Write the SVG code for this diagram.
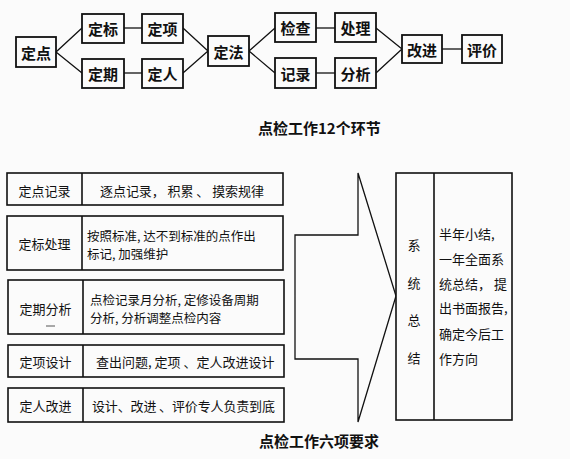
<svg xmlns="http://www.w3.org/2000/svg" width="570" height="459" viewBox="0 0 570 459">
<style>
.bg{fill:#fbfbfb}
.n rect{fill:#fbfbfb;stroke:#111;stroke-width:1.8}
.t{font-family:"Noto Sans CJK SC","Noto Sans",sans-serif;fill:#111}
.tn{font-size:15px;font-weight:700;text-anchor:middle;dominant-baseline:central}
.tb{font-size:13px;dominant-baseline:central}
.ts{font-size:12.5px}
.tl{text-anchor:middle}
.cap{font-size:15px;font-weight:700}
.c line,.c polyline{stroke:#111;stroke-width:1.3;fill:none}
.box{fill:#fbfbfb;stroke:#111;stroke-width:1.6}
</style>
<rect class="bg" x="0" y="0" width="570" height="459"/>
<g id="connectors" class="c">
<polyline points="82,28 56,52 82,73"/>
<line x1="124" y1="28" x2="142" y2="28"/>
<line x1="124" y1="73" x2="142" y2="73"/>
<polyline points="183,28 208,51 183,73"/>
<polyline points="275,28 249,51 275,73"/>
<line x1="316" y1="28" x2="335" y2="28"/>
<line x1="316" y1="73" x2="335" y2="73"/>
<polyline points="376,28 402,49 376,73"/>
<line x1="442" y1="49" x2="462" y2="49"/>
</g>
<g id="n-dingdian" class="n"><rect x="16" y="37" width="40" height="30"/><text class="t tn" x="36" y="52">定点</text></g>
<g id="n-dingbiao" class="n"><rect x="82" y="14" width="42" height="29"/><text class="t tn" x="103" y="28.5">定标</text></g>
<g id="n-dingxiang" class="n"><rect x="142" y="14" width="41" height="29"/><text class="t tn" x="162.5" y="28.5">定项</text></g>
<g id="n-dingqi" class="n"><rect x="82" y="59" width="42" height="29"/><text class="t tn" x="103" y="73.5">定期</text></g>
<g id="n-dingren" class="n"><rect x="142" y="59" width="41" height="29"/><text class="t tn" x="162.5" y="73.5">定人</text></g>
<g id="n-dingfa" class="n"><rect x="208" y="36" width="41" height="30"/><text class="t tn" x="228.5" y="51">定法</text></g>
<g id="n-jiancha" class="n"><rect x="275" y="13" width="41" height="29"/><text class="t tn" x="295.5" y="27.5">检查</text></g>
<g id="n-chuli" class="n"><rect x="335" y="13" width="41" height="29"/><text class="t tn" x="355.5" y="27.5">处理</text></g>
<g id="n-jilu" class="n"><rect x="275" y="58" width="41" height="30"/><text class="t tn" x="295.5" y="73">记录</text></g>
<g id="n-fenxi" class="n"><rect x="335" y="58" width="41" height="30"/><text class="t tn" x="355.5" y="73">分析</text></g>
<g id="n-gaijin" class="n"><rect x="402" y="35" width="40" height="28"/><text class="t tn" x="422" y="49">改进</text></g>
<g id="n-pingjia" class="n"><rect x="462" y="35" width="40" height="28"/><text class="t tn" x="482" y="49">评价</text></g>
<text class="t cap" x="258" y="134">点检工作12个环节</text>

<g id="row1">
<rect class="box" x="7" y="173" width="276" height="32"/>
<line x1="82" y1="173" x2="82" y2="205" stroke="#111" stroke-width="1.6"/>
<text class="t tb tl" x="44.5" y="190">定点记录</text>
<text class="t tb" x="100" y="190" xml:space="preserve" textLength="164" lengthAdjust="spacing">逐点记录， 积累 、 摸索规律</text>
</g>
<g id="row2">
<rect class="box" x="7" y="216" width="276" height="54"/>
<line x1="82" y1="216" x2="82" y2="270" stroke="#111" stroke-width="1.6"/>
<text class="t tb tl" x="44.5" y="243">定标处理</text>
<text class="t tb ts" x="87" y="235">按照标准, 达不到标准的点作出</text>
<text class="t tb ts" x="87" y="253">标记, 加强维护</text>
</g>
<g id="row3">
<rect class="box" x="8" y="280" width="276" height="54"/>
<line x1="83" y1="280" x2="83" y2="334" stroke="#111" stroke-width="1.6"/>
<text class="t tb tl" x="45.5" y="308">定期分析</text>
<line x1="46" y1="326" x2="55" y2="326" stroke="#555" stroke-width="1"/>
<text class="t tb ts" x="90" y="299">点检记录月分析, 定修设备周期</text>
<text class="t tb ts" x="90" y="317">分析, 分析调整点检内容</text>
</g>
<g id="row4">
<rect class="box" x="8" y="345" width="276" height="32"/>
<line x1="83" y1="345" x2="83" y2="377" stroke="#111" stroke-width="1.6"/>
<text class="t tb tl" x="45.5" y="361">定项设计</text>
<text class="t tb" x="96" y="361">查出问题, 定项 、定人改进设计</text>
</g>
<g id="row5">
<rect class="box" x="8" y="388" width="276" height="34"/>
<line x1="83" y1="388" x2="83" y2="422" stroke="#111" stroke-width="1.6"/>
<text class="t tb tl" x="45.5" y="405">定人改进</text>
<text class="t tb" x="92" y="405" textLength="183" lengthAdjust="spacing">设计、改进 、评价专人负责到底</text>
</g>

<g id="arrow">
<polygon points="295,235 358,235 358,173 396,296 358,422 358,359 295,359" fill="#fbfbfb" stroke="#111" stroke-width="1.3"/>
</g>
<g id="summary">
<rect class="box" x="396" y="173" width="116" height="247"/>
<line x1="434" y1="173" x2="434" y2="420" stroke="#111" stroke-width="1.6"/>
<text class="t tb tl" x="414" y="244">系</text>
<text class="t tb tl" x="414" y="282">统</text>
<text class="t tb tl" x="414" y="319">总</text>
<text class="t tb tl" x="414" y="357">结</text>
<text class="t tb" x="439" y="233">半年小结,</text>
<text class="t tb" x="439" y="258">一年全面系</text>
<text class="t tb" x="439" y="283" xml:space="preserve">统总结， 提</text>
<text class="t tb" x="439" y="307">出书面报告,</text>
<text class="t tb" x="439" y="333">确定今后工</text>
<text class="t tb" x="439" y="358">作方向</text>
</g>
<text class="t cap" x="259" y="447">点检工作六项要求</text>
</svg>
